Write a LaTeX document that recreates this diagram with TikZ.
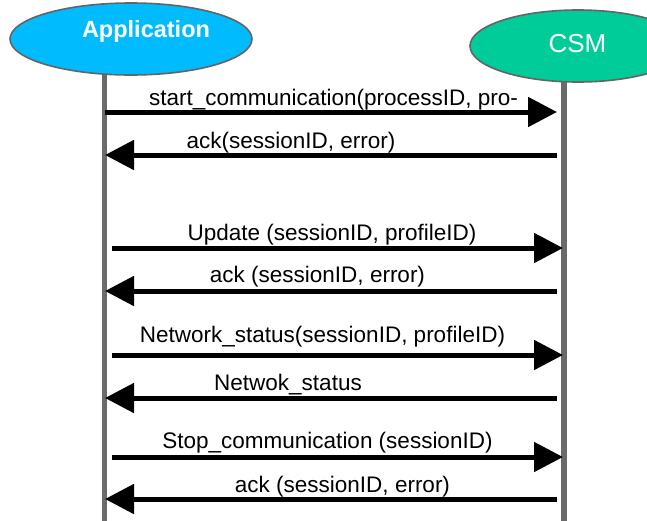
\documentclass[tikz,border=0pt]{standalone}
\usepackage{fontspec}
\setmainfont{Liberation Sans}
\usetikzlibrary{arrows.meta,shapes.geometric}
\definecolor{appblue}{RGB}{0,188,255}
\definecolor{csmgreen}{RGB}{0,204,153}
\definecolor{edgegrey}{RGB}{100,100,100}
\definecolor{lifegrey}{RGB}{106,106,106}
\tikzset{
  actor/.style={ellipse,draw=edgegrey,line width=1.6pt,inner sep=0pt},
  lifeline/.style={draw=lifegrey,line width=5.5pt},
  msg/.style={line width=5pt,-{Triangle[length=29pt,width=29pt]}},
  msglabel/.style={anchor=base,inner sep=0pt,font=\fontsize{22.5}{26}\selectfont},
}
\begin{document}
\begin{tikzpicture}[x=1pt,y=-1pt]
\useasboundingbox (0,0) rectangle (647,520);
\clip (0,0) rectangle (647,520);
\fill[white] (0,0) rectangle (647,520);
% actors
\node[actor,fill=appblue,minimum width=242pt,minimum height=72pt] (app) at (131,39) {};
\node[actor,fill=csmgreen,minimum width=216pt,minimum height=72pt] (csm) at (578,46) {};
\node[anchor=base,inner sep=0pt,text=white,font=\fontsize{23.5}{28}\selectfont\bfseries] (applbl) at (146,37) {Application};
\node[anchor=base,inner sep=0pt,text=white,font=\fontsize{26}{30}\selectfont] (csmlbl) at (577.5,52) {CSM};
% lifelines
\coordinate (appbot) at (104.5,522);
\coordinate (csmbot) at (564,522);
\draw[lifeline] (104.5,75) -- (appbot);
\draw[lifeline] (564,82) -- (csmbot);
% message end points
\coordinate (a1) at (105,112); \coordinate (c1) at (557,112);
\coordinate (c2) at (557,155); \coordinate (a2) at (105,155);
\coordinate (a3) at (112,248); \coordinate (c3) at (563,248);
\coordinate (c4) at (557,291); \coordinate (a4) at (105,291);
\coordinate (a5) at (112,355); \coordinate (c5) at (563,355);
\coordinate (c6) at (557,398); \coordinate (a6) at (105,398);
\coordinate (a7) at (112,457); \coordinate (c7) at (563,457);
\coordinate (c8) at (557,499); \coordinate (a8) at (105,499);
\draw[msg] (a1) -- (c1);
\draw[msg] (c2) -- (a2);
\draw[msg] (a3) -- (c3);
\draw[msg] (c4) -- (a4);
\draw[msg] (a5) -- (c5);
\draw[msg] (c6) -- (a6);
\draw[msg] (a7) -- (c7);
\draw[msg] (c8) -- (a8);
% labels
\node[msglabel] (l1) at (333.5,105) {start\_communication(processID, pro-};
\node[msglabel] (l2) at (291,148) {ack(sessionID, error)};
\node[msglabel] (l3) at (332,240) {Update (sessionID, profileID)};
\node[msglabel] (l4) at (317.5,282) {ack (sessionID, error)};
\node[msglabel] (l5) at (322.5,342) {Network\_status(sessionID, profileID)};
\node[msglabel] (l6) at (288,390) {Netwok\_status};
\node[msglabel] (l7) at (327.5,448) {Stop\_communication (sessionID)};
\node[msglabel] (l8) at (342.5,492) {ack (sessionID, error)};
\end{tikzpicture}
\end{document}
